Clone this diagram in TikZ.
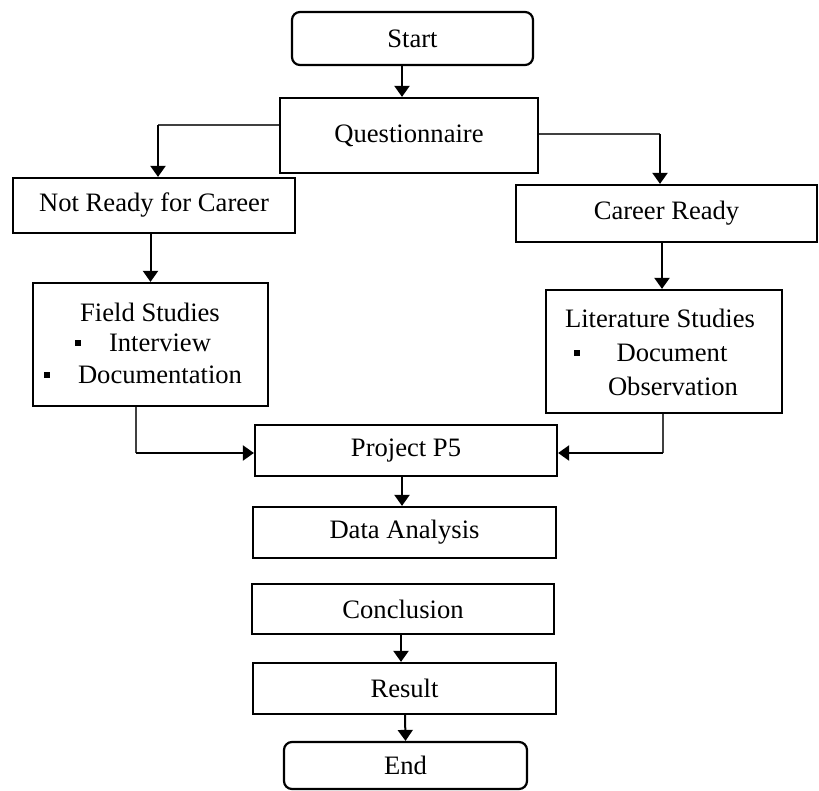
\documentclass[tikz,border=0pt]{standalone}
\usepackage{fontspec}
\setmainfont{Liberation Serif}
\usetikzlibrary{arrows.meta}
\begin{document}
\begin{tikzpicture}[x=0.5pt,y=-0.5pt,
  every node/.style={font=\fontsize{13.3}{16}\selectfont},
  box/.style={draw=black,line width=1.1pt,inner sep=0pt,anchor=center},
  rbox/.style={box,rounded corners=4pt},
  txt/.style={inner sep=0pt,anchor=center},
  bul/.style={fill=black,inner sep=0pt,minimum size=3.2pt},
  arr/.style={line width=1pt,-{Triangle[width=7.5pt,length=5.5pt]}},
  thinline/.style={line width=0.6pt,draw=black!75}
]
\useasboundingbox (0,0) rectangle (819,791);

% boxes
\node[rbox,minimum width=120.5pt,minimum height=26.5pt] (start) at (412.5,38.5) {Start};
\node[box,minimum width=129pt,minimum height=37.5pt] (quest) at (409,135.5) {Questionnaire};
\node[box,minimum width=141pt,minimum height=27.5pt] (notready) at (154,205.5) {Not Ready for Career};
\node[box,minimum width=150.5pt,minimum height=28.5pt] (career) at (666.5,213.5) {Career Ready};
\node[box,minimum width=117.5pt,minimum height=61.5pt] (field) at (150.5,344.5) {};
\node[box,minimum width=118pt,minimum height=61.5pt] (lit) at (664,351.5) {};
\node[box,minimum width=151pt,minimum height=25.5pt] (project) at (406,450.5) {Project P5};
\node[box,minimum width=151.5pt,minimum height=25.5pt] (data) at (404.5,532.5) {Data Analysis};
\node[box,minimum width=151pt,minimum height=25pt] (concl) at (403,609) {Conclusion};
\node[box,minimum width=151.5pt,minimum height=25.5pt] (result) at (404.5,688.5) {Result};
\node[rbox,minimum width=121.5pt,minimum height=23.5pt] (end) at (405.5,765.5) {End};

% texts inside multi-line boxes
\node[txt] (fieldT) at (150,312) {Field Studies};
\node[bul] (fb1) at (78,343) {};
\node[txt] (fieldI) at (160,343) {Interview};
\node[bul] (fb2) at (47,375) {};
\node[txt] (fieldD) at (160,375) {Documentation};

\node[txt] (litT) at (660,318) {Literature Studies};
\node[bul] (lb1) at (577,353) {};
\node[txt] (litD) at (672,353) {Document};
\node[txt] (litO) at (673,386) {Observation};

% connector corner points
\coordinate (cl) at (158,125);
\coordinate (cr) at (660,134);
\coordinate (fl) at (136,453);
\coordinate (fr) at (663,453);

% connectors
\draw[arr] ([xshift=-5.25pt]start.south) -- ([xshift=-3.5pt]quest.north);
\draw[thinline] (cl -| quest.west) -- (cl);
\draw[arr] (cl) -- (cl |- notready.north);
\draw[thinline] (cr -| quest.east) -- (cr);
\draw[arr] (cr) -- (cr |- career.north);
\draw[arr] (field.north |- notready.south) -- (field.north);
\draw[arr] ([xshift=-1pt]lit.north |- career.south) -- ([xshift=-1pt]lit.north);
\draw[thinline] (fl |- field.south) -- (fl);
\draw[arr] (fl) -- (fl -| project.west);
\draw[thinline] (fr |- lit.south) -- (fr);
\draw[arr] (fr) -- (fr -| project.east);
\draw[arr] ([xshift=-2pt]project.south) -- ([xshift=-1.25pt]data.north);
\draw[arr] ([xshift=-1pt]concl.south) -- ([xshift=-1.75pt]result.north);
\draw[arr] ([xshift=0.25pt]result.south) -- (end.north);
\end{tikzpicture}
\end{document}
